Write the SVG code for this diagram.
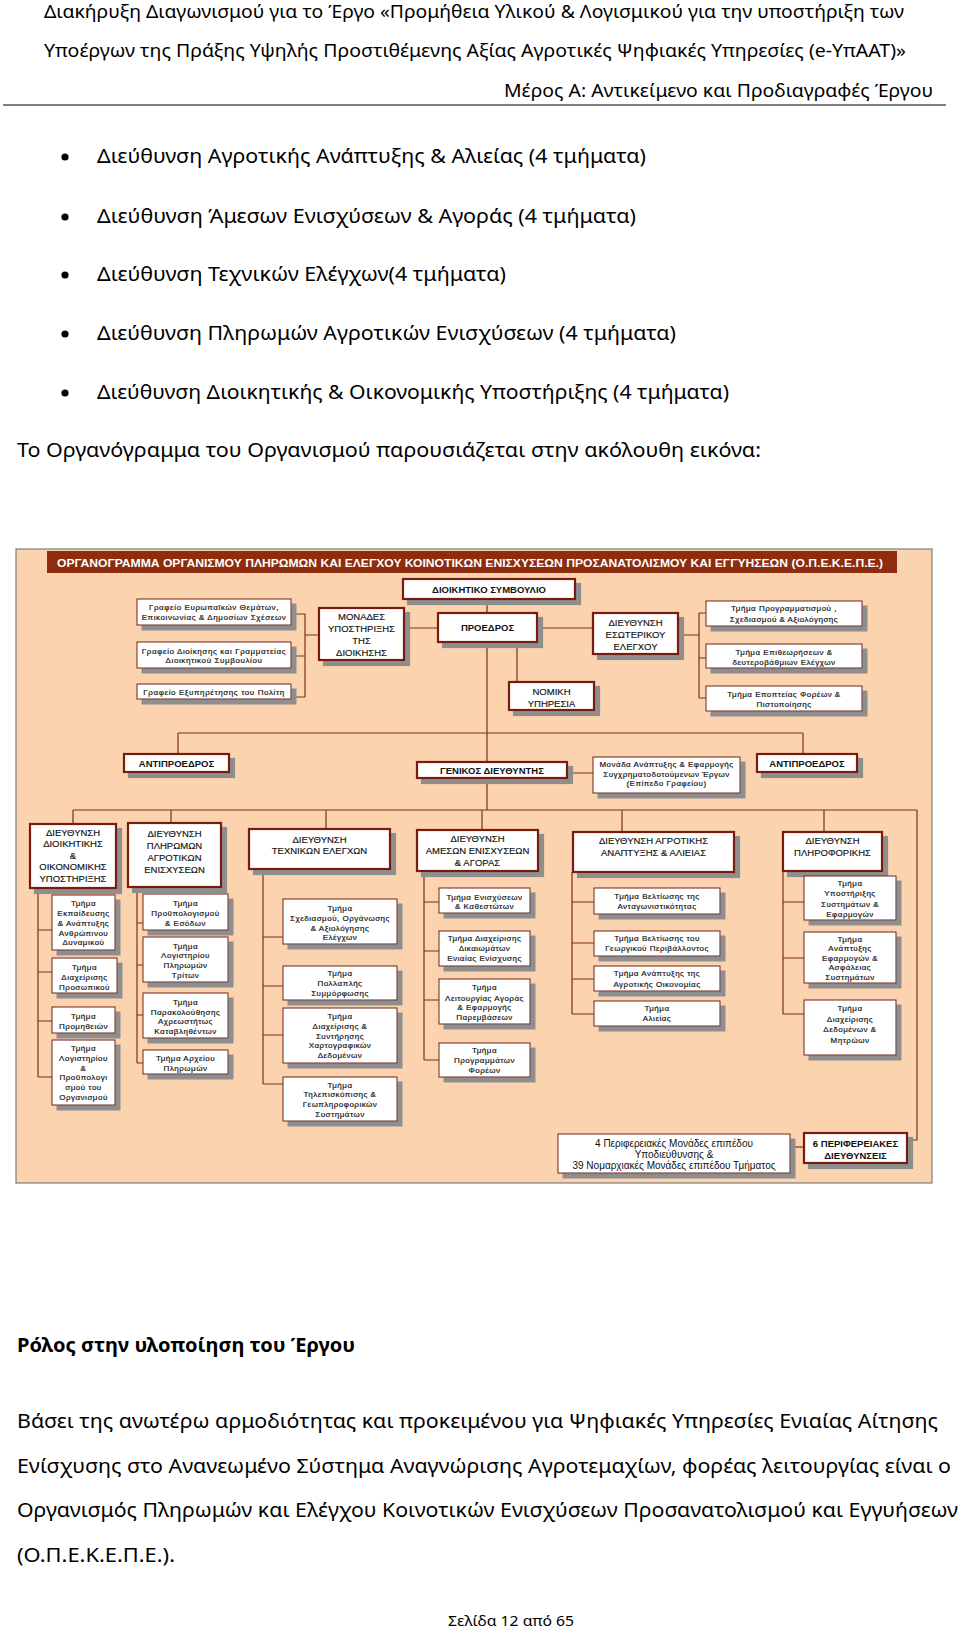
<svg xmlns="http://www.w3.org/2000/svg" width="960" height="1632" viewBox="0 0 960 1632">
<style>
.pg{font-family:"Noto Sans","Open Sans","Liberation Sans",sans-serif;fill:#000;font-size:19.5px}
.hd{font-size:18px}
.ft{font-size:14.5px}
.ch{font-family:"Liberation Sans",Arial,sans-serif;fill:#111;text-anchor:middle}
.m{font-size:9.5px;stroke:#111;stroke-width:0.15}
.mb{font-size:9.5px;font-weight:bold}
.s{font-size:8px;letter-spacing:0.5px;stroke:#222;stroke-width:0.2}
.g{letter-spacing:0.6px}
.bx{fill:#fff;stroke:#6e2418;stroke-width:1;filter:url(#sh)}
.bxm{fill:#fff;stroke:#7a1a10;stroke-width:2.2;filter:url(#sh)}
.cn{fill:none;stroke:#7c3018;stroke-width:1.2}
</style>
<defs>
<filter id="sh" filterUnits="userSpaceOnUse" x="0" y="0" width="960" height="1632">
<feFlood flood-color="#8e8e8e"/>
<feComposite in2="SourceAlpha" operator="in"/>
<feOffset dx="5" dy="5" result="o"/>
<feMerge><feMergeNode in="o"/><feMergeNode in="SourceGraphic"/></feMerge>
</filter>
</defs>
<rect width="960" height="1632" fill="#fff"/>

<g id="page-header" class="pg">
<text class="hd" x="44" y="18" textLength="860" lengthAdjust="spacingAndGlyphs">Διακήρυξη Διαγωνισμού για το Έργο «Προμήθεια Υλικού &amp; Λογισμικού για την υποστήριξη των</text>
<text class="hd" x="44" y="57" textLength="862" lengthAdjust="spacingAndGlyphs">Υποέργων της Πράξης Υψηλής Προστιθέμενης Αξίας Αγροτικές Ψηφιακές Υπηρεσίες (e-ΥπΑΑΤ)»</text>
<text class="hd" x="504" y="97" textLength="429" lengthAdjust="spacingAndGlyphs">Μέρος Α: Αντικείμενο και Προδιαγραφές Έργου</text>
<line x1="3" y1="105" x2="946" y2="105" stroke="#000" stroke-width="1"/>
</g>

<g id="bullets" class="pg">
<circle cx="65" cy="157" r="3.6"/>
<text x="97" y="163" textLength="549" lengthAdjust="spacingAndGlyphs">Διεύθυνση Αγροτικής Ανάπτυξης &amp; Αλιείας (4 τμήματα)</text>
<circle cx="65" cy="217" r="3.6"/>
<text x="97" y="223" textLength="539" lengthAdjust="spacingAndGlyphs">Διεύθυνση Άμεσων Ενισχύσεων &amp; Αγοράς (4 τμήματα)</text>
<circle cx="65" cy="275" r="3.6"/>
<text x="97" y="281" textLength="409" lengthAdjust="spacingAndGlyphs">Διεύθυνση Τεχνικών Ελέγχων(4 τμήματα)</text>
<circle cx="65" cy="334" r="3.6"/>
<text x="97" y="340" textLength="579" lengthAdjust="spacingAndGlyphs">Διεύθυνση Πληρωμών Αγροτικών Ενισχύσεων (4 τμήματα)</text>
<circle cx="65" cy="393" r="3.6"/>
<text x="97" y="399" textLength="632" lengthAdjust="spacingAndGlyphs">Διεύθυνση Διοικητικής &amp; Οικονομικής Υποστήριξης (4 τμήματα)</text>
<text x="17" y="457" textLength="744" lengthAdjust="spacingAndGlyphs">Το Οργανόγραμμα του Οργανισμού παρουσιάζεται στην ακόλουθη εικόνα:</text>
</g>

<g id="chart-frame">
<rect x="16" y="549" width="916" height="634" fill="#fbd3af" stroke="#7f7f7f" stroke-width="1.2"/>
<rect x="47" y="551" width="850" height="22" fill="#8e2d0e"/>
<text x="57" y="566.5" font-family="Liberation Sans,Arial,sans-serif" font-size="10.5" font-weight="bold" fill="#fff" textLength="826" lengthAdjust="spacingAndGlyphs">ΟΡΓΑΝΟΓΡΑΜΜΑ ΟΡΓΑΝΙΣΜΟΥ ΠΛΗΡΩΜΩΝ ΚΑΙ ΕΛΕΓΧΟΥ ΚΟΙΝΟΤΙΚΩΝ ΕΝΙΣΧΥΣΕΩΝ ΠΡΟΣΑΝΑΤΟΛΙΣΜΟΥ ΚΑΙ ΕΓΓΥΗΣΕΩΝ (Ο.Π.Ε.Κ.Ε.Π.Ε.)</text>
</g>

<g id="connectors" class="cn">
<path d="M487,598V762"/>
<path d="M404,628H438M537,628H593M517,642V682"/>
<path d="M291,614H305M291,656H305M291,697H305M305,614V697M305,635H319"/>
<path d="M678,635H699M699,613V698M699,613H706M699,658H706M699,698H706"/>
<path d="M178,733H803M178,733V754M803,733V754"/>
<path d="M567,773H593M487,778V810"/>
<path d="M73,810H917M73,810V824M171,810V823M326,810V829M482,810V830M622,810V832M824,810V832M917,810V1140H907"/>
<path d="M38,888V1077M38,930H52M38,972H52M38,1021H52M38,1077H52"/>
<path d="M137,887V1063M137,923H143M137,965H143M137,1015H143M137,1063H143"/>
<path d="M263,869V1084M263,937H283M263,986H283M263,1035H283M263,1084H283"/>
<path d="M424,871V1060M424,902H439M424,951H439M424,1000H439M424,1060H439"/>
<path d="M572,872V1014M572,902H594M572,943H594M572,979H594M572,1014H594"/>
<path d="M783,871V1014M783,902H804M783,958H804M783,1014H804"/>
<path d="M790,1147H804"/>
</g>

<g id="n-board"><rect class="bxm" x="403" y="579" width="172" height="20"/><text class="ch mb" x="489" y="592.5">ΔΙΟΙΚΗΤΙΚΟ ΣΥΜΒΟΥΛΙΟ</text></g>
<g id="n-president"><rect class="bxm" x="438" y="613" width="99" height="29"/><text class="ch mb" x="487.5" y="631">ΠΡΟΕΔΡΟΣ</text></g>
<g id="n-support"><rect class="bxm" x="319" y="608" width="85" height="52"/><text class="ch m" x="361.5" y="620">ΜΟΝΑΔΕΣ</text><text class="ch m" x="361.5" y="632">ΥΠΟΣΤΗΡΙΞΗΣ</text><text class="ch m" x="361.5" y="644">ΤΗΣ</text><text class="ch m" x="361.5" y="656">ΔΙΟΙΚΗΣΗΣ</text></g>
<g id="n-internal"><rect class="bxm" x="593" y="613" width="85" height="41"/><text class="ch m" x="635.5" y="626">ΔΙΕΥΘΥΝΣΗ</text><text class="ch m" x="635.5" y="638">ΕΣΩΤΕΡΙΚΟΥ</text><text class="ch m" x="635.5" y="649.5">ΕΛΕΓΧΟΥ</text></g>
<g id="n-legal"><rect class="bxm" x="509" y="682" width="85" height="28"/><text class="ch m" x="551.5" y="695">ΝΟΜΙΚΗ</text><text class="ch m" x="551.5" y="706.5">ΥΠΗΡΕΣΙΑ</text></g>

<g id="n-office1"><rect class="bx" x="137" y="599" width="154" height="26"/><text class="ch s g" x="214" y="610">Γραφείο Ευρωπαϊκών Θεμάτων,</text><text class="ch s g" x="214" y="620">Επικοινωνίας &amp; Δημοσίων Σχέσεων</text></g>
<g id="n-office2"><rect class="bx" x="137" y="642" width="154" height="26"/><text class="ch s g" x="214" y="653.5">Γραφείο Διοίκησης και Γραμματείας</text><text class="ch s g" x="214" y="663">Διοικητικού Συμβουλίου</text></g>
<g id="n-office3"><rect class="bx" x="137" y="684" width="154" height="15"/><text class="ch s g" x="214" y="694.5">Γραφείο Εξυπηρέτησης του Πολίτη</text></g>

<g id="n-planning"><rect class="bx" x="706" y="601" width="156" height="25"/><text class="ch s" x="784" y="611">Τμήμα Προγραμματισμού ,</text><text class="ch s" x="784" y="621.5">Σχεδιασμού &amp; Αξιολόγησης</text></g>
<g id="n-inspections"><rect class="bx" x="706" y="644" width="156" height="24"/><text class="ch s" x="784" y="654.5">Τμήμα Επιθεωρήσεων &amp;</text><text class="ch s" x="784" y="664.5">δευτεροβάθμιων Ελέγχων</text></g>
<g id="n-supervision"><rect class="bx" x="706" y="686" width="156" height="25"/><text class="ch s" x="784" y="696.5">Τμήμα Εποπτείας Φορέων &amp;</text><text class="ch s" x="784" y="706.5">Πιστοποίησης</text></g>

<g id="n-vp-left"><rect class="bxm" x="124" y="754" width="105" height="18"/><text class="ch mb" x="176.5" y="766.5">ΑΝΤΙΠΡΟΕΔΡΟΣ</text></g>
<g id="n-gm"><rect class="bxm" x="417" y="762" width="150" height="16"/><text class="ch mb" x="492" y="773.5">ΓΕΝΙΚΟΣ ΔΙΕΥΘΥΝΤΗΣ</text></g>
<g id="n-cofund"><rect class="bx" x="593" y="757" width="147" height="36"/><text class="ch s" x="666.5" y="767">Μονάδα Ανάπτυξης &amp; Εφαρμογής</text><text class="ch s" x="666.5" y="776.5">Συγχρηματοδοτούμενων Έργων</text><text class="ch s" x="666.5" y="786">(Επίπεδο Γραφείου)</text></g>
<g id="n-vp-right"><rect class="bxm" x="757" y="754" width="100" height="18"/><text class="ch mb" x="807" y="766.5">ΑΝΤΙΠΡΟΕΔΡΟΣ</text></g>

<g id="n-dir-admin"><rect class="bxm" x="30" y="824" width="86" height="64"/><text class="ch m" x="73" y="835.5">ΔΙΕΥΘΥΝΣΗ</text><text class="ch m" x="73" y="847">ΔΙΟΙΚΗΤΙΚΗΣ</text><text class="ch m" x="73" y="858.5">&amp;</text><text class="ch m" x="73" y="870">ΟΙΚΟΝΟΜΙΚΗΣ</text><text class="ch m" x="73" y="881.5">ΥΠΟΣΤΗΡΙΞΗΣ</text></g>
<g id="n-dir-payments"><rect class="bxm" x="128" y="823" width="93" height="64"/><text class="ch m" x="174.5" y="836.5">ΔΙΕΥΘΥΝΣΗ</text><text class="ch m" x="174.5" y="848.5">ΠΛΗΡΩΜΩΝ</text><text class="ch m" x="174.5" y="860.5">ΑΓΡΟΤΙΚΩΝ</text><text class="ch m" x="174.5" y="872.5">ΕΝΙΣΧΥΣΕΩΝ</text></g>
<g id="n-dir-tech"><rect class="bxm" x="249" y="829" width="141" height="40"/><text class="ch m" x="319.5" y="843">ΔΙΕΥΘΥΝΣΗ</text><text class="ch m" x="319.5" y="854">ΤΕΧΝΙΚΩΝ ΕΛΕΓΧΩΝ</text></g>
<g id="n-dir-direct"><rect class="bxm" x="417" y="830" width="121" height="41"/><text class="ch m" x="477.5" y="842">ΔΙΕΥΘΥΝΣΗ</text><text class="ch m" x="477.5" y="854">ΑΜΕΣΩΝ ΕΝΙΣΧΥΣΕΩΝ</text><text class="ch m" x="477.5" y="866">&amp; ΑΓΟΡΑΣ</text></g>
<g id="n-dir-rural"><rect class="bxm" x="573" y="832" width="161" height="40"/><text class="ch m" x="653.5" y="844">ΔΙΕΥΘΥΝΣΗ ΑΓΡΟΤΙΚΗΣ</text><text class="ch m" x="653.5" y="856">ΑΝΑΠΤΥΞΗΣ &amp; ΑΛΙΕΙΑΣ</text></g>
<g id="n-dir-it"><rect class="bxm" x="783" y="832" width="99" height="39"/><text class="ch m" x="832.5" y="844">ΔΙΕΥΘΥΝΣΗ</text><text class="ch m" x="832.5" y="856">ΠΛΗΡΟΦΟΡΙΚΗΣ</text></g>

<g id="n-c1a"><rect class="bx" x="52" y="895" width="63" height="55"/><text class="ch s" x="83.5" y="906">Τμήμα</text><text class="ch s" x="83.5" y="916">Εκπαίδευσης</text><text class="ch s" x="83.5" y="926">&amp; Ανάπτυξης</text><text class="ch s" x="83.5" y="936">Ανθρώπινου</text><text class="ch s" x="83.5" y="945">Δυναμικού</text></g>
<g id="n-c1b"><rect class="bx" x="52" y="958" width="65" height="35"/><text class="ch s" x="84.5" y="970">Τμήμα</text><text class="ch s" x="84.5" y="980">Διαχείρισης</text><text class="ch s" x="84.5" y="990">Προσωπικού</text></g>
<g id="n-c1c"><rect class="bx" x="52" y="1007" width="63" height="26"/><text class="ch s" x="83.5" y="1019">Τμήμα</text><text class="ch s" x="83.5" y="1029">Προμηθειών</text></g>
<g id="n-c1d"><rect class="bx" x="52" y="1040" width="63" height="65"/><text class="ch s" x="83.5" y="1051">Τμήμα</text><text class="ch s" x="83.5" y="1061">Λογιστηρίου</text><text class="ch s" x="83.5" y="1071">&amp;</text><text class="ch s" x="83.5" y="1080">Προϋπολογι</text><text class="ch s" x="83.5" y="1090">σμού του</text><text class="ch s" x="83.5" y="1100">Οργανισμού</text></g>

<g id="n-c2a"><rect class="bx" x="143" y="894" width="85" height="36"/><text class="ch s" x="185.5" y="906">Τμήμα</text><text class="ch s" x="185.5" y="916">Προϋπολογισμού</text><text class="ch s" x="185.5" y="926">&amp; Εσόδων</text></g>
<g id="n-c2b"><rect class="bx" x="143" y="937" width="85" height="45"/><text class="ch s" x="185.5" y="949">Τμήμα</text><text class="ch s" x="185.5" y="958">Λογιστηρίου</text><text class="ch s" x="185.5" y="968">Πληρωμών</text><text class="ch s" x="185.5" y="978">Τρίτων</text></g>
<g id="n-c2c"><rect class="bx" x="143" y="993" width="85" height="45"/><text class="ch s" x="185.5" y="1005">Τμήμα</text><text class="ch s" x="185.5" y="1015">Παρακολούθησης</text><text class="ch s" x="185.5" y="1024">Αχρεωστήτως</text><text class="ch s" x="185.5" y="1034">Καταβληθέντων</text></g>
<g id="n-c2d"><rect class="bx" x="143" y="1050" width="85" height="24"/><text class="ch s" x="185.5" y="1061">Τμήμα Αρχείου</text><text class="ch s" x="185.5" y="1071">Πληρωμών</text></g>

<g id="n-c3a"><rect class="bx" x="283" y="899" width="114" height="45"/><text class="ch s" x="340" y="911">Τμήμα</text><text class="ch s" x="340" y="921">Σχεδιασμού, Οργάνωσης</text><text class="ch s" x="340" y="931">&amp; Αξιολόγησης</text><text class="ch s" x="340" y="940">Ελέγχων</text></g>
<g id="n-c3b"><rect class="bx" x="283" y="966" width="114" height="34"/><text class="ch s" x="340" y="976">Τμήμα</text><text class="ch s" x="340" y="986">Πολλαπλής</text><text class="ch s" x="340" y="996">Συμμόρφωσης</text></g>
<g id="n-c3c"><rect class="bx" x="283" y="1008" width="114" height="55"/><text class="ch s" x="340" y="1019">Τμήμα</text><text class="ch s" x="340" y="1029">Διαχείρισης &amp;</text><text class="ch s" x="340" y="1039">Συντήρησης</text><text class="ch s" x="340" y="1048">Χαρτογραφικών</text><text class="ch s" x="340" y="1058">Δεδομένων</text></g>
<g id="n-c3d"><rect class="bx" x="283" y="1077" width="114" height="44"/><text class="ch s" x="340" y="1088">Τμήμα</text><text class="ch s" x="340" y="1097">Τηλεπισκόπισης &amp;</text><text class="ch s" x="340" y="1107">Γεωπληροφορικών</text><text class="ch s" x="340" y="1117">Συστημάτων</text></g>

<g id="n-c4a"><rect class="bx" x="439" y="888" width="91" height="25"/><text class="ch s" x="484.5" y="900">Τμήμα Ενισχύσεων</text><text class="ch s" x="484.5" y="909">&amp; Καθεστώτων</text></g>
<g id="n-c4b"><rect class="bx" x="439" y="931" width="91" height="35"/><text class="ch s" x="484.5" y="941">Τμήμα Διαχείρισης</text><text class="ch s" x="484.5" y="951">Δικαιωμάτων</text><text class="ch s" x="484.5" y="961">Ενιαίας Ενίσχυσης</text></g>
<g id="n-c4c"><rect class="bx" x="439" y="979" width="91" height="45"/><text class="ch s" x="484.5" y="990">Τμήμα</text><text class="ch s" x="484.5" y="1001">Λειτουργίας Αγοράς</text><text class="ch s" x="484.5" y="1010">&amp; Εφαρμογής</text><text class="ch s" x="484.5" y="1020">Παρεμβάσεων</text></g>
<g id="n-c4d"><rect class="bx" x="439" y="1043" width="91" height="34"/><text class="ch s" x="484.5" y="1053">Τμήμα</text><text class="ch s" x="484.5" y="1063">Προγραμμάτων</text><text class="ch s" x="484.5" y="1073">Φορέων</text></g>

<g id="n-c5a"><rect class="bx" x="594" y="888" width="126" height="26"/><text class="ch s" x="657" y="899">Τμήμα Βελτίωσης της</text><text class="ch s" x="657" y="909">Ανταγωνιστικότητας</text></g>
<g id="n-c5b"><rect class="bx" x="594" y="931" width="126" height="25"/><text class="ch s" x="657" y="941">Τμήμα Βελτίωσης του</text><text class="ch s" x="657" y="951">Γεωργικού Περιβάλλοντος</text></g>
<g id="n-c5c"><rect class="bx" x="594" y="966" width="126" height="25"/><text class="ch s" x="657" y="976">Τμήμα Ανάπτυξης της</text><text class="ch s" x="657" y="987">Αγροτικής Οικονομίας</text></g>
<g id="n-c5d"><rect class="bx" x="594" y="1001" width="126" height="25"/><text class="ch s" x="657" y="1011">Τμήμα</text><text class="ch s" x="657" y="1021">Αλιείας</text></g>

<g id="n-c6a"><rect class="bx" x="804" y="876" width="92" height="44"/><text class="ch s" x="850" y="886">Τμήμα</text><text class="ch s" x="850" y="896">Υποστήριξης</text><text class="ch s" x="850" y="906.5">Συστημάτων &amp;</text><text class="ch s" x="850" y="916.5">Εφαρμογών</text></g>
<g id="n-c6b"><rect class="bx" x="804" y="932" width="92" height="51"/><text class="ch s" x="850" y="941.5">Τμήμα</text><text class="ch s" x="850" y="951">Ανάπτυξης</text><text class="ch s" x="850" y="960.5">Εφαρμογών &amp;</text><text class="ch s" x="850" y="970">Ασφάλειας</text><text class="ch s" x="850" y="979.5">Συστημάτων</text></g>
<g id="n-c6c"><rect class="bx" x="804" y="1000" width="92" height="55"/><text class="ch s" x="850" y="1011">Τμήμα</text><text class="ch s" x="850" y="1022">Διαχείρισης</text><text class="ch s" x="850" y="1032">Δεδομένων &amp;</text><text class="ch s" x="850" y="1043">Μητρώων</text></g>

<g id="n-regional-units"><rect class="bx" x="558" y="1134" width="232" height="39"/><text class="ch" font-size="10" x="674" y="1146.5">4 Περιφερειακές Μονάδες επιπέδου</text><text class="ch" font-size="10" x="674" y="1157.5">Υποδιεύθυνσης &amp;</text><text class="ch" font-size="10" x="674" y="1169">39 Νομαρχιακές Μονάδες επιπέδου Τμήματος</text></g>
<g id="n-regional-dirs"><rect class="bxm" x="804" y="1133" width="103" height="30"/><text class="ch mb" x="855.5" y="1147">6 ΠΕΡΙΦΕΡΕΙΑΚΕΣ</text><text class="ch mb" x="855.5" y="1159">ΔΙΕΥΘΥΝΣΕΙΣ</text></g>

<g id="role-section" class="pg">
<text x="17" y="1352" font-weight="bold" textLength="338" lengthAdjust="spacingAndGlyphs">Ρόλος στην υλοποίηση του Έργου</text>
<text x="17" y="1428" textLength="921" lengthAdjust="spacingAndGlyphs">Βάσει της ανωτέρω αρμοδιότητας και προκειμένου για Ψηφιακές Υπηρεσίες Ενιαίας Αίτησης</text>
<text x="17" y="1473" textLength="934" lengthAdjust="spacingAndGlyphs">Ενίσχυσης στο Ανανεωμένο Σύστημα Αναγνώρισης Αγροτεμαχίων, φορέας λειτουργίας είναι ο</text>
<text x="17" y="1517" textLength="941" lengthAdjust="spacingAndGlyphs">Οργανισμός Πληρωμών και Ελέγχου Κοινοτικών Ενισχύσεων Προσανατολισμού και Εγγυήσεων</text>
<text x="17" y="1562" textLength="158" lengthAdjust="spacingAndGlyphs">(Ο.Π.Ε.Κ.Ε.Π.Ε.).</text>
<text class="ft" x="448" y="1626" textLength="126" lengthAdjust="spacingAndGlyphs">Σελίδα 12 από 65</text>
</g>
</svg>
